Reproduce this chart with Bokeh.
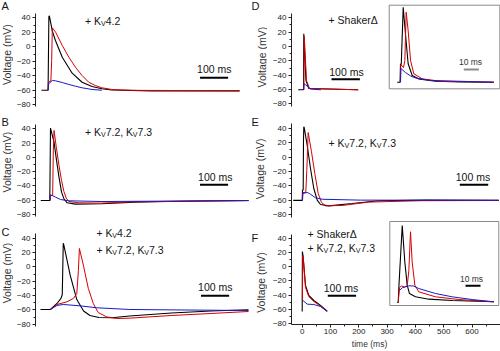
import math
from bokeh.plotting import figure
from bokeh.layouts import row, column
from bokeh.models import Range1d, Label, FixedTicker
from bokeh.core.properties import value
from bokeh.embed import file_html
from bokeh.resources import INLINE

# ---------------- data: time (ms) / voltage (mV) ----------------
A_t_black = [-23.6, 0, 2.8, 4.6, 15, 25.7, 50.4, 85.6, 120.8, 156, 191.2, 226.4, 367, 680.6]
A_v_black = [-60, -60, 41.9, 42.9, 22, 9.1, -14.4, -36.5, -49, -55, -58.1, -59.7, -60.9, -60.9]
A_t_red = [0, 1, 9.9, 12.7, 15.1, 26.8, 50.4, 73.9, 97.2, 120.8, 144.4, 167.6, 191.2, 226.4, 296.8, 680.6]
A_v_red = [-60, -49, -47.3, -19, 26.3, 20.2, 1.8, -14.4, -28.2, -39.7, -49, -53.5, -56.7, -59, -60.2, -60.9]
A_t_blue = [0, 2.1, 15.1, 25.7, 50.4, 73.9, 97.2, 120.8, 156, 191.2]
A_v_blue = [-60, -51.2, -46.6, -47, -49.4, -52.1, -54.5, -56.7, -59, -60.1]

B_t_black = [-33.1, -1, 1.5, 14.1, 22.2, 31.7, 40.8, 49.3, 60.9, 90.1, 184.2, 300.4, 419, 705.3]
B_v_black = [-60.4, -60.4, 41, 21.3, -2, -27.7, -48.7, -58, -63.6, -65.5, -65, -62.7, -61.8, -60.4]
B_t_red = [0, 1, 9.2, 11.6, 14.1, 22.2, 31.7, 40.8, 49.3, 57.4, 66.9, 102.1, 184.2, 300.4, 536, 705.3]
B_v_red = [-60.4, -53.4, -53.4, 9.7, 37.7, 14.3, -11.3, -32.4, -47.8, -57.1, -61.8, -63.6, -64, -62.2, -61, -60.6]
B_t_blue = [0, 0.7, 8.1, 19.7, 37.3, 66.9, 184.2, 419, 705.3]
B_v_blue = [-60.4, -52.4, -53.4, -55.7, -59, -60.8, -61.8, -61.2, -60.4]

C_t_black = [-35.2, 0, 23.6, 37.7, 42.3, 43.3, 45.8, 46.8, 70.4, 94, 118, 140.8, 172.5, 218.3, 281.7, 429.6, 570.4, 704.2]
C_v_black = [-59.4, -59.4, -51, -44, -38.5, -19, 32.6, 32.6, -11.6, -45.5, -61.5, -67.8, -70.6, -71, -68.5, -64.3, -61.5, -59.8]
C_t_red = [0, 23.6, 58.8, 82, 94, 99.6, 103.2, 117.3, 134.9, 152.5, 170, 199.6, 234.9, 281.7, 429.6, 570.4, 704.2]
C_v_red = [-59.4, -52.4, -48.7, -44, -37.1, -5, 25.7, 2.4, -30.1, -51, -63.6, -69.6, -72, -71.5, -67.8, -65, -62.2]
C_t_blue = [0, 23.6, 45.8, 105.6, 164.4, 281.7, 475.4, 704.2]
C_v_blue = [-59.4, -53.8, -52.4, -54.3, -57, -59.4, -60.1, -60.8]

D_t_black = [-19.7, -1, 0, 7.7, 17.6, 191.5]
D_v_black = [-60.4, -60.4, 17.7, -47.4, -58.6, -60.4]
D_t_red = [0, 1.8, 9.5, 20, 191.5]
D_v_red = [-60.4, 14, -47.4, -58.6, -60.4]
D_t_blue = [0, 0.5, 13, 23.6, 60]
D_v_blue = [-60.4, -51.6, -55.8, -59.3, -60.4]

Di_t_black = [-2.2, -0.3, 0, 0.5, 1.8, 3.3, 5.1, 7.8, 12, 23.3, 40, 62.2]
Di_v_black = [-60, -60, -40.8, -41.6, 18.1, -9.6, -40.8, -53, -56.5, -59, -59.8, -60]
Di_t_red = [0, 0.2, 2, 2.9, 3.8, 5.1, 6.7, 8.9, 14.5, 26.7, 62.2]
Di_v_red = [-60, -41.6, -44.7, -37.4, 12.9, -6.1, -37.4, -51.3, -56.5, -59, -60]
Di_t_blue = [0, 0.2, 3.3, 6.7, 10, 20, 62.2]
Di_v_blue = [-60, -45.7, -49.9, -53.5, -55.6, -58.2, -60]

E_t_black = [-32.7, -1, 0, 2.5, 3.5, 4.6, 6, 16.5, 28.2, 39.8, 51.8, 63.4, 92.6, 175, 267.6, 433, 691.2]
E_v_black = [-60, -60, -45.6, -45.6, 23, 42, 41, 16.5, -15.8, -43.5, -59.7, -65.7, -67.5, -64.3, -60.5, -59.6, -60]
E_t_red = [0, 1, 11.6, 15.1, 20, 31.7, 43.3, 55.3, 66.9, 81, 139.8, 233.5, 415.5, 691.2]
E_v_red = [-60, -49, -49, -18.6, 34, 7.3, -22.7, -50.4, -62.9, -67.5, -67, -62.3, -60.4, -60.1]
E_t_blue = [0, 1, 16.5, 24.6, 45.8, 69.4, 204.2, 691.2]
E_v_blue = [-60, -50.4, -49, -50.4, -56.4, -58.4, -59.6, -59.8]

F_t_black = [0, 0.7, 2.8, 11.7, 23.3, 41, 64.7, 88.3]
F_v_black = [-63.4, 21.9, 16.2, -26.5, -40.7, -47.8, -54.9, -63]
F_t_red = [0.7, 2.1, 4.6, 11.7, 23.3, 41, 64.7, 88.3]
F_v_red = [-47.8, 16.2, 9.1, -29.3, -42.1, -49.2, -55.6, -63.2]
F_t_blue = [2.8, 17.7, 41, 64.7, 88.3]
F_v_blue = [-47.8, -53, -53.5, -56.3, -63.5]

Fi_t_black = [-0.7, 0, 0.5, 2.7, 4.4, 6, 7.5, 11.5, 20.4, 36, 63.7]
Fi_v_black = [-60.7, -60.7, -42.7, 21.2, -17.4, -42.3, -51.2, -54.7, -57.2, -58.6, -60]
Fi_t_red = [0, 0.9, 2.2, 4.2, 6, 7.1, 8.2, 9.3, 11.1, 13.7, 24.9, 40.4, 63.7]
Fi_v_red = [-60.7, -44.8, -43.2, -44.3, -43.2, -26.7, 14.5, -17.4, -42.3, -49.4, -54.7, -57.6, -60]
Fi_t_blue = [0.9, 2.7, 6.9, 10.2, 13.7, 24.9, 36, 49.3, 63.7]
Fi_v_blue = [-48, -45.1, -43, -43.2, -45.9, -51.2, -54.7, -57.6, -60]

v_ticks = [-80, -60, -40, -20, 0, 20, 40]
v_minor = [-70, -50, -30, -10, 10, 30]
t_ticks = [0, 100, 200, 300, 400, 500, 600]
t_minor = [50, 150, 250, 350, 450, 550, 650]

panel_letters = ["A", "B", "C", "D", "E", "F"]
y_title = "Voltage (mV)"
x_title = "time (ms)"

BLACK = "#000000"
RED = "#d60000"
BLUE = "#1a1ac8"
FONT = "Liberation Sans"
TXT = "#151515"
TDY = -2.0   # baseline nudge (px) for alphabetic text

CW = {'+': 0.584, ' ': 0.278, 'K': 0.667, 'V': 0.667, '4': 0.556, '.': 0.278, '2': 0.556,
      '7': 0.556, ',': 0.278, '3': 0.556, 'S': 0.667, 'h': 0.556, 'a': 0.556, 'k': 0.5,
      'e': 0.556, 'r': 0.333}


def tw(s, fs):
    return sum(CW.get(c, 0.556) for c in s) * fs


def bare(w, h, xr=None, yr=None, bl=0):
    p = figure(width=w, height=h, output_backend="svg", toolbar_location=None,
               x_range=xr if xr is not None else Range1d(0, w),
               y_range=yr if yr is not None else Range1d(h, 0),
               x_axis_location=None, y_axis_location=None,
               min_border_left=bl, min_border_right=0, min_border_top=0, min_border_bottom=0,
               outline_line_color=None, background_fill_color="white", border_fill_color="white")
    for g in p.grid:
        g.visible = False
    return p


class Panel:
    def __init__(self, gx, gy, w, h, bl, bb, t0, kx, v0, ky, inset=None):
        self.t0, self.kx, self.v0, self.ky = t0, kx, v0, ky
        fl, fr, ft, fb = gx + bl, gx + w, gy, gy + h - bb
        p = figure(width=w, height=h, output_backend="svg", toolbar_location=None,
                   x_range=Range1d(self.X(fl), self.X(fr)),
                   y_range=Range1d(self.Y(fb), self.Y(ft)),
                   x_axis_location=("below" if bb else None), y_axis_location="left",
                   min_border_left=bl, min_border_right=0, min_border_top=0,
                   min_border_bottom=bb, outline_line_color=None,
                   background_fill_color="white", border_fill_color="white")
        for g in p.grid:
            g.visible = False
        ax = p.yaxis[0]
        ax.ticker = FixedTicker(ticks=v_ticks, minor_ticks=v_minor)
        ax.bounds = (-83, 46)
        self.style_axis(ax)
        if bb:
            xa = p.xaxis[0]
            xa.ticker = FixedTicker(ticks=t_ticks, minor_ticks=t_minor)
            self.style_axis(xa)
            xa.major_label_standoff = 1
        if inset:
            self.it0, self.ikx, self.ivb, self.iky = inset
            p.extra_x_ranges = {"ix": Range1d(self.IX(fl), self.IX(fr))}
            p.extra_y_ranges = {"iy": Range1d(self.IY(fb), self.IY(ft))}
        self.p = p

    @staticmethod
    def style_axis(ax):
        ax.major_tick_out = 3
        ax.major_tick_in = 0
        ax.minor_tick_out = 2
        ax.minor_tick_in = 0
        ax.major_label_standoff = 2
        ax.major_label_text_font = FONT
        ax.major_label_text_font_size = "8px"
        ax.major_label_text_color = "#222222"
        ax.axis_line_color = "#222222"
        ax.major_tick_line_color = "#222222"
        ax.minor_tick_line_color = "#222222"

    def X(self, px):
        return (px - self.t0) / self.kx

    def Y(self, py):
        return (self.v0 - py) / self.ky

    def IX(self, px):
        return (px - self.it0) / self.ikx

    def IY(self, py):
        return -60 + (self.ivb - py) / self.iky

    def traces(self, bt, bv, rt, rv, ut, uv, inset=False):
        kw = dict(x_range_name="ix", y_range_name="iy") if inset else {}
        self.p.line(bt, bv, line_color=BLACK, line_width=1.1, **kw)
        self.p.line(rt, rv, line_color=RED, line_width=1.0, **kw)
        self.p.line(ut, uv, line_color=BLUE, line_width=1.0, **kw)

    def text(self, px, py, s, fs=10.5, align="left", color=TXT):
        self.p.add_layout(Label(x=self.X(px), y=self.Y(py + TDY), text=s, text_font=FONT,
                                text_font_size=f"{fs:.1f}px", text_color=color,
                                text_align=align, text_baseline="alphabetic"))

    def rich(self, px, py, parts, fs=10.5):
        x = px
        for s, sub in parts:
            f = fs * 0.68 if sub else fs
            y = py + (fs * 0.3 if sub else 0)
            self.text(x, y, s, fs=f)
            x += tw(s, f)

    def bar(self, px, py, ms=100):
        x0 = self.X(px)
        self.p.line([x0, x0 + ms], [self.Y(py), self.Y(py)], line_color=BLACK, line_width=2)

    def ibar(self, px, py, ms, color):
        x0 = self.IX(px)
        self.p.line([x0, x0 + ms], [self.IY(py), self.IY(py)], line_color=color,
                    line_width=2, x_range_name="ix", y_range_name="iy")

    def box(self, l, r, t, b):
        self.p.quad(left=[self.X(l)], right=[self.X(r)], top=[self.Y(t)], bottom=[self.Y(b)],
                    fill_color=None, line_color="#8a8a8a", line_width=1)


KV42 = [("+ K", False), ("V", True), ("4.2", False)]
KV7 = [("+ K", False), ("V", True), ("7.2, K", False), ("V", True), ("7.3", False)]
SHK = [("+ Shaker\u0394", False)]

# ---------------- left gutter (panel letters, y titles) ----------------
GL = 13
gutL = bare(GL, 351)
gutL.text(x=[1, 1, 1], y=[7.5 + TDY, 123 + TDY, 233.5 + TDY], text=panel_letters[:3],
          text_font=value(FONT), text_font_size=value("11px"), text_color=TXT,
          text_align="left", text_baseline="alphabetic")
gutL.text(x=[6.7, 6.5, 6.5], y=[54.2, 161.7, 272.5], text=[y_title] * 3, angle=math.pi / 2,
          text_font=value(FONT), text_font_size=value("10.5px"), text_color="#333333",
          text_align="center", text_baseline="middle")

# ---------------- panel A ----------------
A = Panel(GL, 0, 250 - GL, 115, 33 - GL, 0, 45.7, 0.284, 46.3, 0.723)
A.traces(A_t_black, A_v_black, A_t_red, A_v_red, A_t_blue, A_v_blue)
A.rich(83, 22, KV42)
A.bar(199, 77.3)
A.text(213.5, 70.5, "100 ms", align="center")

# ---------------- panel B ----------------
B = Panel(GL, 115, 250 - GL, 110, 33 - GL, 0, 47.7, 0.284, 156.9, 0.714)
B.traces(B_t_black, B_v_black, B_t_red, B_v_red, B_t_blue, B_v_blue)
B.rich(83, 133.5, KV7)
B.bar(199, 184.3)
B.text(214.5, 178.5, "100 ms", align="center")

# ---------------- panel C ----------------
C = Panel(GL, 225, 250 - GL, 126, 33 - GL, 0, 48.0, 0.284, 266.4, 0.717)
C.traces(C_t_black, C_v_black, C_t_red, C_v_red, C_t_blue, C_v_blue)
C.rich(94.5, 234, KV42)
C.rich(94.5, 251, KV7)
C.bar(200, 295.3)
C.text(214.5, 288.5, "100 ms", align="center")

# ---------------- right gutter ----------------
GR = 17
gutR = bare(GR, 351)
gutR.text(x=[1, 1, 1], y=[7.5 + TDY, 123 + TDY, 239 + TDY], text=panel_letters[3:],
          text_font=value(FONT), text_font_size=value("11px"), text_color=TXT,
          text_align="left", text_baseline="alphabetic")
gutR.text(x=[11.7, 9.5, 10.3], y=[56.7, 168.3, 282], text=[y_title] * 3, angle=math.pi / 2,
          text_font=value(FONT), text_font_size=value("10.5px"), text_color="#333333",
          text_align="center", text_baseline="middle")

RX = 250 + GR
RW = 250 - GR

# ---------------- panel D ----------------
D = Panel(RX, 0, RW, 115, 291 - RX, 0, 303.3, 0.284, 46.0, 0.717, inset=(400.0, 1.5, 81.7, 0.96))
D.box(388.7, 499.3, 4.7, 88.3)
D.traces(D_t_black, D_v_black, D_t_red, D_v_red, D_t_blue, D_v_blue)
D.traces(Di_t_black, Di_v_black, Di_t_red, Di_v_red, Di_t_blue, Di_v_blue, inset=True)
D.rich(328, 21.5, SHK)
D.bar(331, 78.7)
D.text(346, 73.5, "100 ms", align="center")
D.ibar(463.3, 69, 10, "#8c8c8c")
D.text(470, 63.5, "10 ms", fs=8.5, align="center", color="#333333")

# ---------------- panel E ----------------
E = Panel(RX, 115, RW, 103, 291 - RX, 0, 302.0, 0.284, 156.6, 0.722)
E.traces(E_t_black, E_v_black, E_t_red, E_v_red, E_t_blue, E_v_blue)
E.rich(328, 144, KV7)
E.bar(459.3, 184.3)
E.text(472.5, 178.5, "100 ms", align="center")

# ---------------- panel F ----------------
F = Panel(RX, 218, RW, 119, 291 - RX, 13, 301.7, 0.283, 266.4, 0.703, inset=(397.7, 1.5, 301.3, 0.94))
F.box(389.3, 498.3, 221, 305)
F.traces(F_t_black, F_v_black, F_t_red, F_v_red, F_t_blue, F_v_blue)
F.traces(Fi_t_black, Fi_v_black, Fi_t_red, Fi_v_red, Fi_t_blue, Fi_v_blue, inset=True)
F.rich(307, 235, SHK)
F.rich(307, 249, KV7)
F.bar(327.3, 295.3)
F.text(340.5, 289.5, "100 ms", align="center")
F.ibar(465, 285.3, 10, BLACK)
F.text(471, 280.5, "10 ms", fs=8.5, align="center", color="#333333")

# strip under F for the time-axis title (shares F's time range)
strip = bare(RW, 14, xr=F.p.x_range, yr=Range1d(14, 0), bl=291 - RX)
strip.text(x=[F.X(369)], y=[7 + TDY + 1], text=[x_title], text_font=value(FONT),
           text_font_size=value("8.5px"), text_color="#333333",
           text_align="center", text_baseline="alphabetic")

layout = row(gutL, column(A.p, B.p, C.p), gutR, column(D.p, E.p, F.p, strip))
open("out.html", "w").write(file_html(layout, INLINE))
